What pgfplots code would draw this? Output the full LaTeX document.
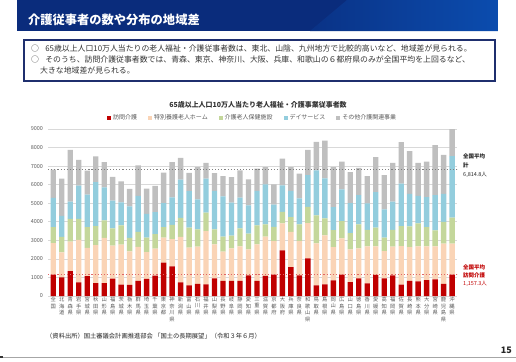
\documentclass[border=0pt]{standalone}
\usepackage{fontspec}
\setmainfont{Noto Sans CJK JP}
\usepackage{pgfplots}
\usepackage{pgfplotstable}
\pgfplotsset{compat=1.18}
\definecolor{cRed}{HTML}{C00000}
\definecolor{cPeach}{HTML}{FAD4B6}
\definecolor{cGreen}{HTML}{C4D79B}
\definecolor{cBlue}{HTML}{93CDDD}
\definecolor{cGray}{HTML}{BFBFBF}
\definecolor{cNavy}{HTML}{0A2C7C}
\definecolor{cNavyL}{HTML}{0B4CAE}
\definecolor{cBox}{HTML}{1F2F6E}
\definecolor{cTxt}{HTML}{595959}
\definecolor{cGrid}{HTML}{D9D9D9}
\definecolor{cRedDot}{HTML}{E06666}

\pgfplotstableread{
x r p g b o
0 1157 1693 860 1580 1525
1 1000 1350 830 1140 2000
2 1340 1590 1220 930 2800
3 730 2300 1120 1800 1390
4 1070 1530 1110 1760 1290
5 700 2040 1020 2380 1380
6 700 2430 950 1780 1350
7 940 1780 920 1500 1280
8 620 2150 1040 1240 1130
9 600 1810 720 1700 940
10 810 1840 800 1950 1640
11 920 1440 780 1280 1370
12 1100 1460 780 1180 1420
13 1800 1350 560 1300 1640
14 1600 1470 770 1480 1900
15 730 2450 1030 2060 1170
16 570 2040 1070 1970 990
17 660 2000 930 1620 1740
18 630 2870 990 1830 860
19 950 1830 810 2070 960
20 810 1580 810 2170 1090
21 810 1760 680 1780 1380
22 810 1860 970 1660 1470
23 1110 1400 850 1520 1400
24 810 1970 1030 1850 1200
25 1080 2120 660 2150 940
26 1150 1810 770 1190 1090
27 2460 1450 630 1420 1440
28 1560 1890 800 1410 1290
29 1110 1850 900 1400 1330
30 2030 1900 880 1710 1360
31 570 2270 1500 2430 1540
32 630 2640 910 2160 2040
33 840 1800 910 1240 2160
34 1150 1960 930 1710 1490
35 750 1760 880 1620 1670
36 950 1620 1290 1580 1460
37 680 1990 900 1420 1470
38 1140 1530 1010 1920 1890
39 950 1470 720 1530 1850
40 1110 1550 910 1510 2100
41 610 2080 1080 2280 2240
42 810 1830 1110 1760 2300
43 790 1880 1240 1480 1790
44 860 1810 1040 1620 1910
45 900 1770 870 1900 2690
46 660 2160 1180 1510 2090
47 1150 1670 1400 3320 1510
}\datatable

\begin{document}
\begin{tikzpicture}[x=1bp,y=1bp]
\useasboundingbox (0,0) rectangle (516,361);
% title bar
\fill[cNavy] (17,330) rectangle (498,361);
\shade[left color=cNavy!80!cNavyL, right color=cNavyL] (310,330) -- (347,361) -- (498,361) -- (498,330) -- cycle;
\node[anchor=base west, text=white, font=\fontsize{12.3}{14}\selectfont\bfseries, inner sep=0] at (28,337) {介護従事者の数や分布の地域差};
% text box
\draw[cBox, line width=1.2bp] (24,280) rectangle (495,321);
\node[anchor=base west, inner sep=0, text=black!80, font=\fontsize{7.9}{9}\selectfont] at (31,310) {○\hspace{0.8em}65歳以上人口10万人当たりの老人福祉・介護従事者数は、東北、山陰、九州地方で比較的高いなど、地域差が見られる。};
\node[anchor=base west, inner sep=0, text=black!80, font=\fontsize{7.9}{9}\selectfont] at (31,299) {○\hspace{0.8em}そのうち、訪問介護従事者数では、青森、東京、神奈川、大阪、兵庫、和歌山の６都府県のみが全国平均を上回るなど、};
\node[anchor=base west, inner sep=0, text=black!80, font=\fontsize{7.9}{9}\selectfont] at (40,288) {大きな地域差が見られる。};
% chart title
\node[anchor=base, inner sep=0, text=black!80, font=\fontsize{7}{8}\selectfont\bfseries] at (258,254) {65歳以上人口10万人当たり老人福祉・介護事業従事者数};

\begin{axis}[
  at={(48.2bp,65bp)}, anchor=south west,
  scale only axis, width=409bp, height=167bp,
  ybar stacked, bar width=5.4bp,
  xmin=-0.6, xmax=47.6, ymin=0, ymax=9000,
  ytick={0,1000,...,9000},
  xtick={0,...,47},
  xticklabels={{全\\国},{北\\海\\道},{青\\森\\県},{岩\\手\\県},{宮\\城\\県},{秋\\田\\県},{山\\形\\県},{福\\島\\県},{茨\\城\\県},{栃\\木\\県},{群\\馬\\県},{埼\\玉\\県},{千\\葉\\県},{東\\京\\都},{神\\奈\\川\\県},{新\\潟\\県},{富\\山\\県},{石\\川\\県},{福\\井\\県},{山\\梨\\県},{長\\野\\県},{岐\\阜\\県},{静\\岡\\県},{愛\\知\\県},{三\\重\\県},{滋\\賀\\県},{京\\都\\府},{大\\阪\\府},{兵\\庫\\県},{奈\\良\\県},{和\\歌\\山\\県},{鳥\\取\\県},{島\\根\\県},{岡\\山\\県},{広\\島\\県},{山\\口\\県},{徳\\島\\県},{香\\川\\県},{愛\\媛\\県},{高\\知\\県},{福\\岡\\県},{佐\\賀\\県},{長\\崎\\県},{熊\\本\\県},{大\\分\\県},{宮\\崎\\県},{鹿\\児\\島\\県},{沖\\縄\\県}},
  xticklabel style={align=center, anchor=north, inner sep=1bp, text=cTxt, font=\fontsize{5.3}{6.6}\selectfont},
  yticklabel style={text=cTxt, font=\fontsize{5.5}{6.5}\selectfont, inner sep=1bp, xshift=-4bp},
  /pgf/number format/assume math mode=true,
  scaled y ticks=false,
  yticklabel={\pgfmathprintnumber[fixed,1000 sep={}]{\tick}},
  major tick length=0pt,
  axis line style={draw=none},
  ymajorgrids, grid style={cGrid, line width=0.6bp},
  legend style={at={(0.5,1)}, anchor=south, yshift=4bp, draw=none, fill=none,
    font=\fontsize{6}{7}\selectfont, text=cTxt, legend columns=-1,
    /tikz/every even column/.append style={column sep=9bp}},
  legend image code/.code={\fill[#1] (0bp,-2bp) rectangle (4bp,2bp);},
]
\addplot[fill=cRed, draw=none] table[x=x,y=r] {\datatable};
\addplot[fill=cPeach, draw=none] table[x=x,y=p] {\datatable};
\addplot[fill=cGreen, draw=none] table[x=x,y=g] {\datatable};
\addplot[fill=cBlue, draw=none] table[x=x,y=b] {\datatable};
\addplot[fill=cGray, draw=none] table[x=x,y=o] {\datatable};
\legend{訪問介護,特別養護老人ホーム,介護老人保健施設,デイサービス,その他介護関連事業}
\end{axis}

\begin{axis}[
  at={(48.2bp,65bp)}, anchor=south west,
  scale only axis, width=409bp, height=167bp,
  xmin=-0.6, xmax=47.6, ymin=0, ymax=9000, hide axis,
]
\addplot[color=gray, dotted, line width=1.1bp] coordinates {(-0.6,6814.8) (47.8,6814.8)};
\addplot[color=cRedDot, dotted, line width=1.1bp] coordinates {(-0.6,1157.3) (47.8,1157.3)};
\end{axis}

% annotations
\node[anchor=base west, inner sep=0, text=black!85, font=\fontsize{5.5}{6.5}\selectfont\bfseries] at (463,203) {全国平均};
\node[anchor=base west, inner sep=0, text=black!85, font=\fontsize{5.5}{6.5}\selectfont\bfseries] at (463,194) {計};
\node[anchor=base west, inner sep=0, text=black!85, font=\fontsize{5.5}{6.5}\selectfont] at (463,185) {6,814.8人};
\node[anchor=base west, inner sep=0, text=cRed, font=\fontsize{5.5}{6.5}\selectfont\bfseries] at (463,92) {全国平均};
\node[anchor=base west, inner sep=0, text=cRed, font=\fontsize{5.5}{6.5}\selectfont\bfseries] at (463,84) {訪問介護};
\node[anchor=base west, inner sep=0, text=cRed, font=\fontsize{5.5}{6.5}\selectfont] at (463,76) {1,157.3人};
% source
\node[anchor=base west, inner sep=0, text=black!85, font=\fontsize{6.3}{7.5}\selectfont] at (46,23) {（資料出所）国土審議会計画推進部会 「国土の長期展望」（令和３年６月）};
% page number and bottom line
\node[anchor=base east, inner sep=0, text=black!85, font=\fontsize{9}{10}\selectfont\bfseries] at (512,8) {15};
\draw[gray!70, line width=1bp] (3,4) -- (516,4);
\fill[black!80] (0,3) rectangle (3,5.5);
\end{tikzpicture}
\end{document}
